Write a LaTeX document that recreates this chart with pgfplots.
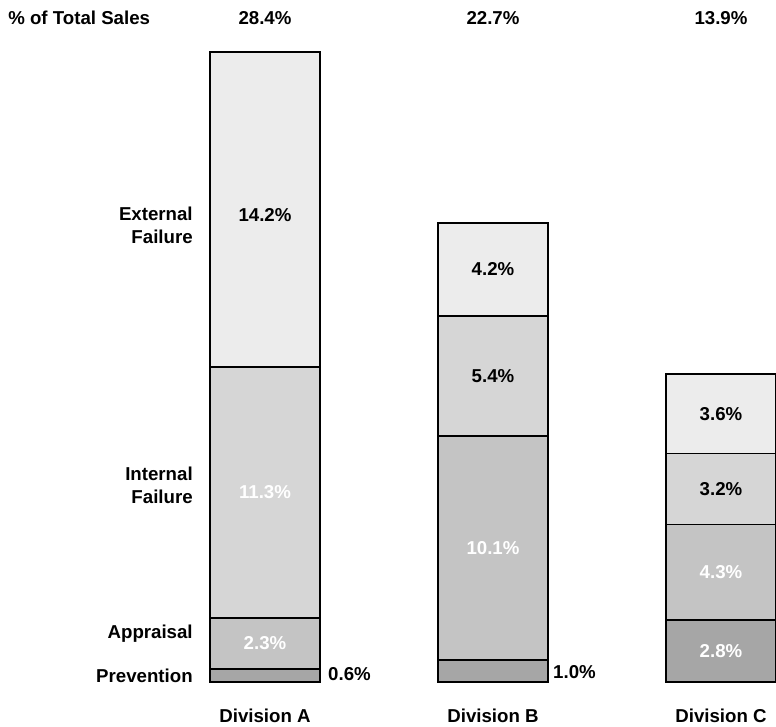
\documentclass[border=0pt]{standalone}
\usepackage{pgfplots}
\pgfplotsset{compat=1.18}
\usepackage{fontspec}
\setmainfont{Liberation Sans}
\definecolor{cprev}{HTML}{A6A6A6}
\definecolor{cappr}{HTML}{C4C4C4}
\definecolor{cint}{HTML}{D6D6D6}
\definecolor{cext}{HTML}{ECECEC}
\begin{document}
\begin{tikzpicture}[lab/.style={font=\fontsize{14}{17}\selectfont\bfseries, inner sep=0pt}]
\begin{axis}[
  scale only axis, width=582pt, height=544.5pt,
  xmin=-1.1623, xmax=2.2412, ymin=-1.984, ymax=30.75,
  hide axis, clip=false,
  ybar stacked, bar width=0.4825,
  every axis plot/.append style={draw=black, line width=1.4pt},
]
\addplot[fill=cprev] coordinates {(0,0.6) (1,1.0) (2,2.8)};
\addplot[fill=cappr] coordinates {(0,2.3) (1,10.1) (2,4.3)};
\addplot[fill=cint] coordinates {(0,11.3) (1,5.4) (2,3.2)};
\addplot[fill=cext] coordinates {(0,14.2) (1,4.2) (2,3.6)};
% header row
\coordinate (h0) at (axis cs:-1.127,29.94);
\coordinate (hA) at (axis cs:0,29.94);
\coordinate (hB) at (axis cs:1,29.94);
\coordinate (hC) at (axis cs:2,29.94);
% row labels
\coordinate (rE) at (axis cs:-0.316,20.6);
\coordinate (rI) at (axis cs:-0.316,8.88);
\coordinate (rA) at (axis cs:-0.316,2.16);
\coordinate (rP) at (axis cs:-0.316,0.27);
% division A
\coordinate (a4) at (axis cs:0,21.05);
\coordinate (a3) at (axis cs:0,8.55);
\coordinate (a2) at (axis cs:0,1.75);
\coordinate (a1) at (axis cs:0.276,0.36);
% division B
\coordinate (b4) at (axis cs:1,18.6);
\coordinate (b3) at (axis cs:1,13.8);
\coordinate (b2) at (axis cs:1,6.05);
\coordinate (b1) at (axis cs:1.263,0.45);
% division C
\coordinate (c4) at (axis cs:2,12.1);
\coordinate (c3) at (axis cs:2,8.7);
\coordinate (c2) at (axis cs:2,4.95);
\coordinate (c1) at (axis cs:2,1.4);
% division labels
\coordinate (dA) at (axis cs:0,-1.533);
\coordinate (dB) at (axis cs:1,-1.533);
\coordinate (dC) at (axis cs:2,-1.533);
\end{axis}
\node[lab, anchor=west] at (h0) {\% of Total Sales};
\node[lab] at (hA) {28.4\%};
\node[lab] at (hB) {22.7\%};
\node[lab] at (hC) {13.9\%};
\node[lab, anchor=east, align=right] at (rE) {External\\Failure};
\node[lab, anchor=east, align=right] at (rI) {Internal\\Failure};
\node[lab, anchor=east] at (rA) {Appraisal};
\node[lab, anchor=east] at (rP) {Prevention};
\node[lab] at (a4) {14.2\%};
\node[lab, text=white] at (a3) {11.3\%};
\node[lab, text=white] at (a2) {2.3\%};
\node[lab, anchor=west] at (a1) {0.6\%};
\node[lab] at (b4) {4.2\%};
\node[lab] at (b3) {5.4\%};
\node[lab, text=white] at (b2) {10.1\%};
\node[lab, anchor=west] at (b1) {1.0\%};
\node[lab] at (c4) {3.6\%};
\node[lab] at (c3) {3.2\%};
\node[lab, text=white] at (c2) {4.3\%};
\node[lab, text=white] at (c1) {2.8\%};
\node[lab] at (dA) {Division A};
\node[lab] at (dB) {Division B};
\node[lab] at (dC) {Division C};
\pgfresetboundingbox
\path[use as bounding box] (current axis.south west) rectangle (current axis.north east);
\end{tikzpicture}
\end{document}
